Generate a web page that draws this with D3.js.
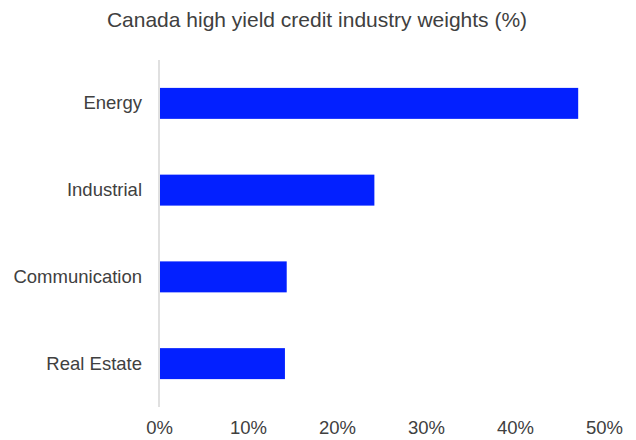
<!DOCTYPE html>
<html lang="en">
<head>
    <meta charset="UTF-8">
    <title>Canada high yield credit industry weights</title>
    <style>
        body { margin: 0; background: #fff; }
        text { font-family: "Liberation Sans", Arial, sans-serif; fill: #404040; }
    </style>
</head>
<body>
<script src="https://cdn.jsdelivr.net/npm/d3@7"></script>
<script>
    var categories = ["Energy", "Industrial", "Communication", "Real Estate"];
    var weights = [47.1, 24.2, 14.35, 14.15];
    var xTicks = [0, 10, 20, 30, 40, 50];

    var w = 636;
    var h = 440;
    var svg = d3.select("body")
                .append("svg")
                .attr("width", w)
                .attr("height", h);

    var x = d3.scaleLinear().domain([0, 50]).range([159, 604]);
    var y = d3.scaleBand()
              .domain(categories)
              .range([60, 407])
              .paddingInner(0.643)
              .paddingOuter(0.3215);

    // title
    svg.append("text")
        .attr("x", 317)
        .attr("y", 27)
        .attr("text-anchor", "middle")
        .attr("font-size", "21px")
        .text("Canada high yield credit industry weights (%)");

    // bars
    svg.selectAll("rect.bar")
        .data(weights)
        .enter()
        .append("rect")
        .attr("class", "bar")
        .attr("x", x(0))
        .attr("y", function(d, i) { return y(categories[i]); })
        .attr("width", function(d) { return x(d) - x(0); })
        .attr("height", y.bandwidth())
        .attr("fill", "#0320ff");

    // baseline
    svg.append("line")
        .attr("x1", x(0)).attr("x2", x(0))
        .attr("y1", 60).attr("y2", 407)
        .attr("stroke", "#e0e0e0")
        .attr("stroke-width", 2);

    // category labels
    var yAxis = d3.axisLeft(y).tickSize(0).tickPadding(17);
    svg.append("g")
        .attr("transform", "translate(" + x(0) + ",0)")
        .call(yAxis)
        .call(function(g) { g.select(".domain").remove(); })
        .selectAll("text")
        .attr("font-size", "18.5px")
        .attr("fill", "#404040");

    // x tick labels
    var xAxis = d3.axisBottom(x).tickValues(xTicks).tickSize(0).tickPadding(14)
                  .tickFormat(function(d) { return d + "%"; });
    svg.append("g")
        .attr("transform", "translate(0,407)")
        .call(xAxis)
        .call(function(g) { g.select(".domain").remove(); })
        .selectAll("text")
        .attr("font-size", "18.5px")
        .attr("fill", "#404040");
</script>
</body>
</html>
